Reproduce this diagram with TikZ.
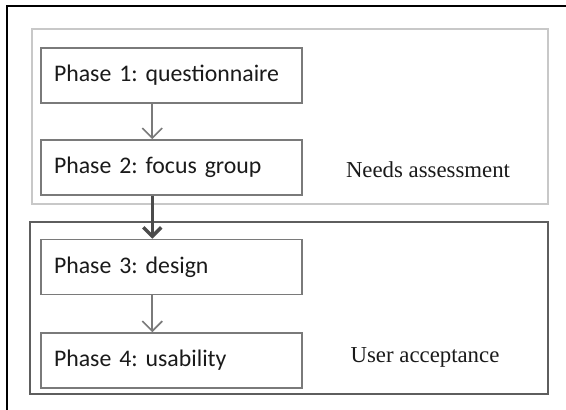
\documentclass[tikz,border=0pt]{standalone}
\usepackage{fontspec}
\setmainfont{Liberation Serif}
\newfontfamily\phasefont[WordSpace=0.8]{Carlito}
\usetikzlibrary{arrows.meta}
\frenchspacing

\definecolor{boxgray}{HTML}{7A7A7A}
\definecolor{lightgray}{HTML}{C8C8C8}
\definecolor{darkgray}{HTML}{5E5E5E}
\definecolor{inkgray}{HTML}{1A1A1A}

\tikzset{
    phase/.style={draw=boxgray, line width=.75pt, rectangle, minimum width=130.5pt,
        minimum height=27.5pt, inner xsep=6.5pt, text width=117.5pt, align=left,
        text=inkgray, font=\phasefont\fontsize{11.9}{14}\selectfont},
    group/.style={rectangle, line width=.75pt, inner sep=0pt},
    grouplabel/.style={text=inkgray, font=\fontsize{11.4}{13}\selectfont},
    thin arrow/.style={draw=boxgray, line width=.8pt, -{Straight Barb[length=5pt,width=10pt]}},
    thick arrow/.style={draw=darkgray!80!black, line width=1.75pt, -{Straight Barb[length=4.5pt,width=9pt]}}
}

\begin{document}
\begin{tikzpicture}[x=.5pt, y=-.5pt]
        \useasboundingbox (0, 0) rectangle (566, 410);
        \fill[white] (0, 0) rectangle (566, 410);

        % frame
        \draw[line width=1.25pt] (7, 410) -- (7, 6) -- (566, 6);

        % groups
        \node[group, draw=lightgray, minimum width=258pt, minimum height=87.5pt] (needs) at (290, 116.5) {};
        \node[group, draw=darkgray, minimum width=259pt, minimum height=86pt] (user) at (289, 308) {};

        % phases
        \node[phase] (p1) at (171.5, 75.5) {\mbox{Phase 1: questionnaire}};
        \node[phase] (p2) at (171.5, 167.5) {\mbox{Phase 2: focus group}};
        \node[phase] (p3) at (171.5, 267) {\mbox{Phase 3: design}};
        \node[phase] (p4) at (171.5, 360.5) {\mbox{Phase 4: usability}};

        \node[grouplabel] (needslabel) at (428, 170) {Needs assessment};
        \node[grouplabel] (userlabel) at (425, 357) {User acceptance};

        \draw[thin arrow] ([xshift=56pt]p1.south west) -- ([xshift=56pt]p2.north west);
        \draw[thick arrow] ([xshift=56pt]p2.south west) -- ([xshift=56pt]p3.north west);
        \draw[thin arrow] ([xshift=56pt]p3.south west) -- ([xshift=56pt]p4.north west);
    \end{tikzpicture}
\end{document}
